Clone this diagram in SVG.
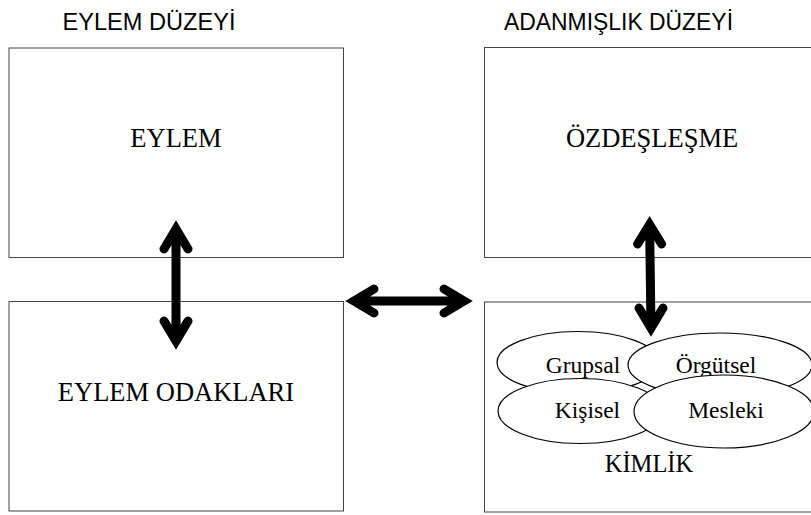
<svg xmlns="http://www.w3.org/2000/svg" width="811" height="515" viewBox="0 0 811 515">
<style>
.box{fill:#fff;stroke:#444;stroke-width:1}
.ell{fill:#fff;stroke:#000;stroke-width:1.2}
.t{font-family:"Liberation Serif","Times New Roman",serif;fill:#000;text-anchor:middle}
.h{font-family:"Liberation Sans",Arial,sans-serif;font-size:23px;fill:#000}
.arr{fill:none;stroke:#000;stroke-width:9;stroke-linecap:round;stroke-linejoin:miter;stroke-miterlimit:10}
</style>
<rect width="811" height="515" fill="#fff"/>
<g id="headers">
<text class="h" x="62.5" y="29.5" textLength="173" lengthAdjust="spacingAndGlyphs">EYLEM DÜZEYİ</text>
<text class="h" x="504" y="29.5" textLength="229" lengthAdjust="spacingAndGlyphs">ADANMIŞLIK DÜZEYİ</text>
</g>
<g id="eylem">
<rect class="box" x="9" y="48" width="334.5" height="209.5"/>
<text class="t" x="176" y="147.3" font-size="26.5">EYLEM</text>
</g>
<g id="eylem-odaklari">
<rect class="box" x="9" y="301.5" width="334.5" height="209.5"/>
<text class="t" x="176" y="400.7" font-size="26.5">EYLEM ODAKLARI</text>
</g>
<g id="ozdeslesme">
<rect class="box" x="484.5" y="47.5" width="340" height="210"/>
<text class="t" x="652" y="147.3" font-size="26.5">ÖZDEŞLEŞME</text>
</g>
<g id="kimlik">
<rect class="box" x="484.5" y="302" width="340" height="210"/>
<g id="grupsal">
<ellipse class="ell" cx="578" cy="362.5" rx="81" ry="31"/>
<text class="t" x="583" y="373.3" font-size="23.5">Grupsal</text>
</g>
<g id="orgutsel">
<ellipse class="ell" cx="720" cy="365" rx="92" ry="32"/>
<text class="t" x="716" y="373.3" font-size="23.5">Örgütsel</text>
</g>
<g id="kisisel">
<ellipse class="ell" cx="580" cy="411" rx="82" ry="32.5"/>
<text class="t" x="587.5" y="418" font-size="23.5">Kişisel</text>
</g>
<g id="mesleki">
<ellipse class="ell" cx="724" cy="411.5" rx="90" ry="36.5"/>
<text class="t" x="726" y="418" font-size="23.5">Mesleki</text>
</g>
<text class="t" x="649" y="471.7" font-size="24.5">KİMLİK</text>
</g>
<g id="connectors">
<path class="arr" d="M176,229 L176,341 M164,249 L176,229 L188,249 M164,321 L176,341 L188,321"/>
<path class="arr" d="M354,301 L464,301 M374,289 L354,301 L374,313 M444,289 L464,301 L444,313"/>
<path class="arr" d="M649.6,224.5 L651,328 M637.6,244 L649.6,224.5 L661.6,244 M639,308 L651,328 L663,308"/>
</g>
</svg>
